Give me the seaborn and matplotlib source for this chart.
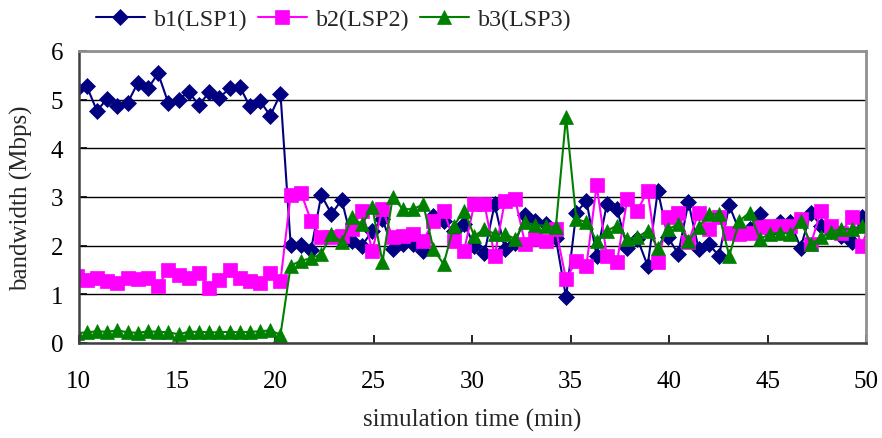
import numpy as np
import pandas as pd
import matplotlib
matplotlib.use("Agg")
import matplotlib.pyplot as plt
import seaborn as sns

# ---- data ----
t_start = 9.9       # first sample (just left of the visible range)
t_step = 0.518      # sampling interval (min)

b1 = [5.22,
      5.28, 4.77, 5.02, 4.87, 4.93, 5.34, 5.23, 5.54, 4.93, 5.00,
      5.16, 4.89, 5.15, 5.04, 5.23, 5.27, 4.86, 4.97, 4.67, 5.12,
      2.01, 2.01, 1.92, 3.04, 2.65, 2.94, 2.10, 2.00, 2.31, 2.55,
      1.93, 2.03, 2.03, 1.90, 2.60, 2.50, 2.30, 2.45, 2.00, 1.85,
      2.85, 1.93, 2.05, 2.62, 2.50, 2.45, 2.15, 0.94, 2.68, 2.92,
      1.79, 2.85, 2.75, 1.96, 2.14, 1.59, 3.13, 2.17, 1.83, 2.89,
      1.93, 2.03, 1.79, 2.83, 2.30, 2.35, 2.65, 2.30, 2.48, 2.48,
      1.96, 2.68, 2.41, 2.30, 2.20, 2.07, 2.58, 2.30]
b2 = [1.38,
      1.29, 1.33, 1.28, 1.23, 1.33, 1.31, 1.33, 1.18, 1.50, 1.40,
      1.33, 1.43, 1.14, 1.29, 1.50, 1.33, 1.28, 1.23, 1.43, 1.28,
      3.05, 3.09, 2.51, 2.17, 2.17, 2.20, 2.34, 2.72, 1.90, 2.75,
      2.17, 2.20, 2.24, 2.10, 2.51, 2.72, 2.10, 1.90, 2.85, 2.85,
      1.79, 2.92, 2.96, 2.03, 2.14, 2.10, 2.34, 1.31, 1.69, 1.59,
      3.24, 1.79, 1.66, 2.96, 2.72, 3.13, 1.66, 2.58, 2.68, 2.07,
      2.68, 2.34, 2.58, 2.27, 2.24, 2.27, 2.38, 2.41, 2.41, 2.41,
      2.55, 2.03, 2.72, 2.41, 2.27, 2.58, 2.00, 2.60]
b3 = [0.20,
      0.22, 0.24, 0.23, 0.26, 0.22, 0.21, 0.24, 0.23, 0.22, 0.18,
      0.23, 0.23, 0.22, 0.22, 0.23, 0.22, 0.23, 0.24, 0.26, 0.17,
      1.59, 1.69, 1.74, 1.83, 2.24, 2.07, 2.58, 2.44, 2.79, 1.66,
      2.99, 2.75, 2.75, 2.85, 1.93, 1.62, 2.41, 2.72, 2.20, 2.34,
      2.24, 2.24, 2.14, 2.48, 2.42, 2.41, 2.38, 4.65, 2.55, 2.48,
      2.10, 2.31, 2.41, 2.14, 2.17, 2.31, 1.96, 2.34, 2.44, 2.10,
      2.38, 2.65, 2.65, 1.79, 2.51, 2.68, 2.14, 2.24, 2.27, 2.24,
      2.51, 2.03, 2.17, 2.29, 2.34, 2.34, 2.41, 2.15]

labels = ["b1(LSP1)", "b2(LSP2)", "b3(LSP3)"]
x_ticks = [10, 15, 20, 25, 30, 35, 40, 45, 50]
y_ticks = [0, 1, 2, 3, 4, 5, 6]

time = [round(t_start + t_step * i, 3) for i in range(len(b1))]
df = pd.DataFrame({"time": time, "b1": b1, "b2": b2, "b3": b3})

# ---- style ----
sns.set_theme(style="white")
plt.rcParams["font.family"] = ["Liberation Serif", "DejaVu Serif"]
FS = 18

fig = plt.figure(figsize=(8.82, 4.39), dpi=100)
ax = fig.add_axes([78.5 / 882, 1 - 344 / 439, (866 - 78.5) / 882, (344 - 52) / 439])

styles = [
    dict(color="#000080", marker="D", markersize=8.3),
    dict(color="#FF00FF", marker="s", markersize=9.8),
    dict(color="#008000", marker="^", markersize=10.5),
]
for col, lab, st in zip(["b1", "b2", "b3"], labels, styles):
    sns.lineplot(data=df, x="time", y=col, ax=ax, label=lab,
                 color=st["color"], marker=st["marker"],
                 markersize=st["markersize"], markeredgecolor=st["color"],
                 markeredgewidth=0.5, linewidth=1.5, sort=False)

ax.set_xlim(10, 50)
ax.set_ylim(0, 6)
ax.set_xticks(x_ticks)
ax.set_yticks(y_ticks)
ax.set_xticklabels([str(v) for v in x_ticks], fontsize=FS)
ax.set_yticklabels([str(v) for v in y_ticks], fontsize=FS)
ax.grid(axis="y", color="black", linewidth=1.0)
ax.grid(axis="x", visible=False)
ax.set_axisbelow(True)

ax.tick_params(axis="x", direction="in", length=6, width=1.2, pad=19.5, colors="black", bottom=True)
ax.tick_params(axis="y", direction="in", length=6, width=1.2, pad=11, colors="black", left=True)

for side in ["left", "bottom"]:
    ax.spines[side].set_color("#404040")
    ax.spines[side].set_linewidth(1.8)
for side in ["top", "right"]:
    ax.spines[side].set_color("#909090")
    ax.spines[side].set_linewidth(2.0)

ax.set_xlabel("simulation time (min)", fontsize=FS)
ax.set_ylabel("bandwidth (Mbps)", fontsize=FS)
ax.xaxis.set_label_coords(0.5, -0.222)
ax.yaxis.set_label_coords(-0.058, 0.5)

handles, labs = ax.get_legend_handles_labels()
ax.legend_.remove()
fig.legend(handles, labs, loc="upper left", bbox_to_anchor=(86 / 882, 1.0),
           ncol=3, frameon=False, fontsize=17.3, handlelength=2.05,
           handletextpad=0.4, columnspacing=0.4, borderaxespad=0.0)

fig.savefig("out.png", dpi=100)
